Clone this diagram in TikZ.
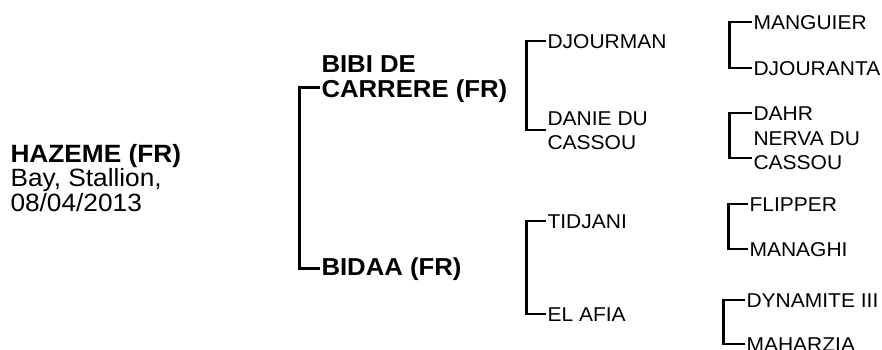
\documentclass[tikz,border=0pt]{standalone}
\usepackage{fontspec}
\setmainfont{Liberation Sans}[FakeStretch=1.05]
\begin{document}
\begin{tikzpicture}[x=1pt,y=-1pt,line width=2.4pt,
  horse/.style={anchor=base west,inner sep=0pt,outer sep=1.5pt,align=left},
  foal/.style={horse,font=\fontsize{25}{22.5}\selectfont},
  parent/.style={horse,font=\fontsize{24.5}{25}\selectfont\bfseries},
  grand/.style={horse,font=\fontsize{20}{24}\selectfont}]
  \useasboundingbox (0,0) rectangle (882,349);
  \node[foal] (hazeme) at (9,211) {\textbf{HAZEME (FR)}\\Bay, Stallion,\\08/04/2013};
  \node[parent] (bibi) at (320,97) {BIBI DE\\CARRERE (FR)};
  \node[parent] (bidaa) at (320,275) {BIDAA (FR)};
  \node[grand] (djourman) at (546,48) {DJOURMAN};
  \node[grand] (danie) at (546,149) {DANIE DU\\CASSOU};
  \node[grand] (tidjani) at (546,228) {TIDJANI};
  \node[grand] (elafia) at (546,321) {EL AFIA};
  \node[grand] (manguier) at (752,29) {MANGUIER};
  \node[grand] (djouranta) at (752,75) {DJOURANTA};
  \node[grand] (dahr) at (752,120) {DAHR};
  \node[grand] (nerva) at (752,169) {NERVA DU\\CASSOU};
  \node[grand] (flipper) at (748,211) {FLIPPER};
  \node[grand] (managhi) at (748,256) {MANAGHI};
  \node[grand] (dynamite) at (745,307) {DYNAMITE III};
  \node[grand] (maharzia) at (745,351) {MAHARZIA};
  \draw ([yshift=-9pt]bibi.west) -- ++(-20.5,0) |- (bidaa.west);
  \draw (djourman.west) -- ++(-19.5,0) |- (danie.west);
  \draw (tidjani.west) -- ++(-19.5,0) |- (elafia.west);
  \draw (manguier.west) -- ++(-22.5,0) |- (djouranta.west);
  \draw (dahr.west) -- ++(-22.5,0) |- ([yshift=-8pt]nerva.west);
  \draw (flipper.west) -- ++(-19.5,0) |- (managhi.west);
  \draw (dynamite.west) -- ++(-21.5,0) |- (maharzia.west);
\end{tikzpicture}
\end{document}
